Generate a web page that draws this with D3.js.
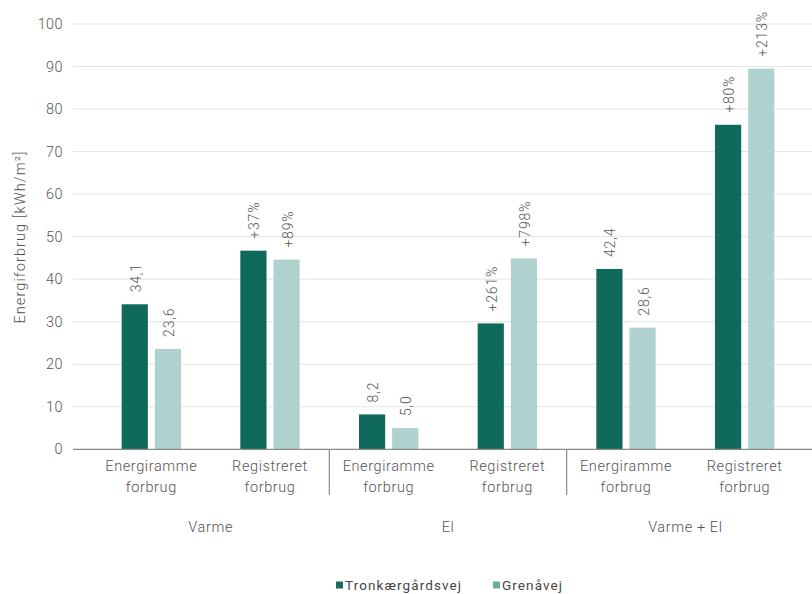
<!DOCTYPE html>
<html>
<head>
<meta charset="utf-8">
<script src="https://cdn.jsdelivr.net/npm/d3@7"></script>
<style>
  html, body { margin: 0; padding: 0; background: #fff; }
  svg { display: block; font-family: Roboto, "DejaVu Sans", sans-serif; }
</style>
</head>
<body>
<svg id="chart" width="812" height="594"></svg>
<script>
// Energy use per m² for two housing estates
const categories = ["Varme|Energiramme", "Varme|Registreret", "El|Energiramme", "El|Registreret", "Varme + El|Energiramme", "Varme + El|Registreret"];
const categoryLines = [["Energiramme", "forbrug"], ["Registreret", "forbrug"], ["Energiramme", "forbrug"], ["Registreret", "forbrug"], ["Energiramme", "forbrug"], ["Registreret", "forbrug"]];
const groups = ["Varme", "El", "Varme + El"];
const seriesNames = ["Tronkærgårdsvej", "Grenåvej"];
const tronkaergaardsvej = [34.1, 46.7, 8.2, 29.6, 42.4, 76.3];
const grenaavej = [23.6, 44.6, 5.0, 44.9, 28.6, 89.5];
const tronkaergaardsvejLabels = ["34,1", "+37%", "8,2", "+261%", "42,4", "+80%"];
const grenaavejLabels = ["23,6", "+89%", "5,0", "+798%", "28,6", "+213%"];
const yTicks = [0, 10, 20, 30, 40, 50, 60, 70, 80, 90, 100];

const barColors = ["#0f6a5c", "#afd2ce"];
const legendColors = ["#1a6b5d", "#6aa99b"];
const textColor = "#555";
const lightWeight = 300;

const svg = d3.select("#chart");

const x0 = d3.scaleBand().domain(categories).range([92, 804]).paddingInner(0).paddingOuter(0);
const x1 = d3.scaleBand().domain(seriesNames)
  .range([x0.bandwidth() * 0.25, x0.bandwidth() * 0.75]).paddingInner(0.21);
const y = d3.scaleLinear().domain([0, 100]).range([449.3, 24]);

// grid lines
svg.append("g").selectAll("line").data(yTicks.filter(d => d > 0)).join("line")
  .attr("x1", 73).attr("x2", 812)
  .attr("y1", d => y(d)).attr("y2", d => y(d))
  .attr("stroke", "#e3e3e3").attr("stroke-width", 1);

// y axis labels
const yAxis = d3.axisLeft(y).tickValues(yTicks).tickSize(0).tickPadding(0).tickFormat(d3.format("d"));
const yg = svg.append("g").attr("transform", "translate(63,0)").call(yAxis);
yg.select(".domain").remove();
yg.selectAll("text").attr("fill", textColor).attr("font-size", 14.5)
  .attr("font-family", "Roboto, sans-serif").attr("font-weight", lightWeight).attr("letter-spacing", 0.4);

// y axis title
svg.append("text")
  .attr("transform", `translate(20,${237}) rotate(-90)`)
  .attr("text-anchor", "middle").attr("dominant-baseline", "central")
  .attr("fill", textColor).attr("font-size", 14.5).attr("font-weight", lightWeight).attr("letter-spacing", 1.1)
  .text("Energiforbrug [kWh/m²]");

// bars
const rows = categories.map((c, i) => ({
  cat: c,
  vals: [
    { s: seriesNames[0], v: tronkaergaardsvej[i], label: tronkaergaardsvejLabels[i], color: barColors[0] },
    { s: seriesNames[1], v: grenaavej[i], label: grenaavejLabels[i], color: barColors[1] }
  ]
}));

const cg = svg.append("g").selectAll("g").data(rows).join("g")
  .attr("transform", d => `translate(${x0(d.cat)},0)`);

cg.selectAll("rect").data(d => d.vals).join("rect")
  .attr("x", d => x1(d.s)).attr("width", x1.bandwidth())
  .attr("y", d => y(d.v)).attr("height", d => y(0) - y(d.v))
  .attr("fill", d => d.color);

cg.selectAll("text.val").data(d => d.vals).join("text")
  .attr("class", "val")
  .attr("transform", d => `translate(${x1(d.s) + x1.bandwidth() / 2 + 1},${y(d.v) - 12}) rotate(-90)`)
  .attr("text-anchor", "start").attr("dominant-baseline", "central")
  .attr("fill", textColor).attr("font-size", 14).attr("font-weight", lightWeight).attr("letter-spacing", 0.8)
  .text(d => d.label);

// baseline axis
svg.append("line").attr("x1", 73).attr("x2", 812)
  .attr("y1", y(0)).attr("y2", y(0))
  .attr("stroke", "#8a8a8a").attr("stroke-width", 1.3);

// separators between groups
[2, 4].forEach(i => {
  const sx = x0(categories[i]);
  svg.append("line").attr("x1", sx).attr("x2", sx)
    .attr("y1", y(0)).attr("y2", 495)
    .attr("stroke", "#8a8a8a").attr("stroke-width", 1.2);
});

// category labels
categories.forEach((c, i) => {
  const cx = x0(c) + x0.bandwidth() / 2;
  const t = svg.append("text").attr("text-anchor", "middle")
    .attr("fill", textColor).attr("font-size", 14.5).attr("font-weight", lightWeight).attr("letter-spacing", 0.6);
  categoryLines[i].forEach((line, j) => {
    t.append("tspan").attr("x", cx).attr("y", 466 + j * 21).attr("dy", "0.35em").text(line);
  });
});

// group labels
groups.forEach((g, i) => {
  const a = x0(categories[i * 2]);
  const b = x0(categories[i * 2 + 1]) + x0.bandwidth();
  svg.append("text").attr("x", (a + b) / 2).attr("y", 527).attr("dy", "0.35em")
    .attr("text-anchor", "middle").attr("fill", textColor)
    .attr("font-size", 14.5).attr("font-weight", lightWeight).attr("letter-spacing", 0.6).text(g);
});

// legend
const legendX = [336, 493];
seriesNames.forEach((s, i) => {
  const lg = svg.append("g").attr("transform", `translate(${legendX[i]},585)`);
  lg.append("rect").attr("x", 0).attr("y", -3.5).attr("width", 7).attr("height", 7).attr("fill", legendColors[i]);
  lg.append("text").attr("x", 9).attr("y", 0).attr("dy", "0.35em")
    .attr("fill", "#444").attr("font-size", 13.5).attr("letter-spacing", 1.1).text(s);
});
</script>
</body>
</html>
